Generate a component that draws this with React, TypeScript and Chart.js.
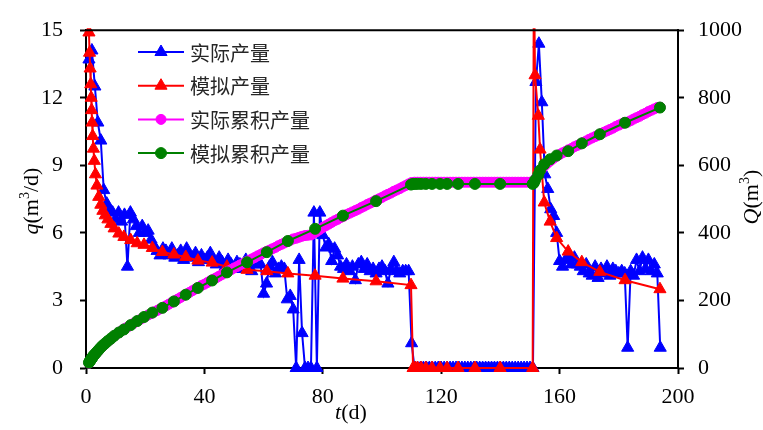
import React, { useEffect, useRef } from "react";
import { Chart, registerables } from "chart.js";

Chart.register(...registerables);

// ---------------- data ----------------
const legendLabels = ["实际产量", "模拟产量", "实际累积产量", "模拟累积产量"];

const xTickValues = [0, 40, 80, 120, 160, 200];
const qTickValues = [0, 3, 6, 9, 12, 15];
const QTickValues = [0, 200, 400, 600, 800, 1000];

// measured (daily) – t in days
const actualDays = [
  1, 2, 3, 4, 5, 6, 7, 8, 9, 10, 11, 12, 13, 14, 15, 16, 17, 18, 19, 20,
  21, 22, 23, 24, 25, 26, 27, 28, 29, 30, 31, 32, 33, 34, 35, 36, 37, 38, 39, 40,
  41, 42, 43, 44, 45, 46, 47, 48, 49, 50, 51, 52, 53, 54, 55, 56, 57, 58, 59, 60,
  61, 62, 63, 64, 65, 66, 67, 68, 69, 70, 71, 72, 73, 74, 75, 76, 77, 78, 79, 80,
  81, 82, 83, 84, 85, 86, 87, 88, 89, 90, 91, 92, 93, 94, 95, 96, 97, 98, 99, 100,
  101, 102, 103, 104, 105, 106, 107, 108, 109, 110, 111, 112, 113, 114, 115, 116, 117, 118, 119, 120,
  121, 122, 123, 124, 125, 126, 127, 128, 129, 130, 131, 132, 133, 134, 135, 136, 137, 138, 139, 140,
  141, 142, 143, 144, 145, 146, 147, 148, 149, 150, 151, 152, 153, 154, 155, 156, 157, 158, 159, 160,
  161, 162, 163, 164, 165, 166, 167, 168, 169, 170, 171, 172, 173, 174, 175, 176, 177, 178, 179, 180,
  181, 182, 183, 184, 185, 186, 187, 188, 189, 190, 191, 192, 193, 194,
];

// 实际产量 q (m3/d)
const actualRate = [
  13.7, 14.1, 12.5, 10.9, 10.1, 7.9, 7.3, 7.0, 6.9, 6.6,
  6.9, 6.5, 6.8, 4.5, 6.9, 6.6, 6.3, 6.0, 6.3, 6.0,
  6.1, 5.7, 5.4, 5.2, 5.0, 5.3, 5.2, 5.0, 5.3, 4.9,
  5.0, 5.2, 4.8, 5.3, 5.0, 4.9, 5.1, 4.7, 5.0, 4.8,
  4.9, 5.1, 4.8, 4.6, 4.9, 4.7, 4.5, 4.8, 4.6, 4.4,
  4.7, 4.6, 4.4, 4.8, 4.5, 4.3, 4.6, 4.7, 4.6, 3.3,
  3.75, 4.5, 4.7, 4.2, 4.4, 4.5, 4.4, 3.05, 3.2, 2.6,
  0, 4.8, 1.55, 0, 0, 0, 6.9, 0, 6.9, 5.9,
  5.35, 5.5, 4.75, 5.3, 5.0, 4.5, 4.4, 4.6, 4.3, 4.5,
  3.9, 4.6, 4.7, 4.4, 4.6, 4.3, 4.4, 4.2, 4.4, 4.5,
  4.3, 3.75, 4.4, 4.7, 4.3, 4.2, 4.3, 4.3, 4.3, 1.1,
  0, 0, 0, 0, 0, 0, 0, 0, 0, 0,
  0, 0, 0, 0, 0, 0, 0, 0, 0, 0,
  0, 0, 0, 0, 0, 0, 0, 0, 0, 0,
  0, 0, 0, 0, 0, 0, 0, 0, 0, 0,
  0,
  12.7, 14.4, 11.8, 8.6, 7.95, 7.05, 6.75, 6.0, 4.75,
  4.5, 4.8, 4.9, 4.6, 4.9, 4.6, 4.5, 4.3, 4.6, 4.2,
  4.1, 4.5, 4.0, 4.4, 4.2, 4.5, 4.1, 4.4, 4.3, 4.2,
  4.3, 4.2, 0.9, 4.3, 4.1, 4.8, 4.3, 4.9, 4.4, 4.8,
  4.3, 4.6, 4.2, 0.9,
];

// 实际累积产量 Q (m3)
const actualCum = [
  14, 27, 39, 49, 59, 68, 76, 83, 91, 98,
  104, 110, 116, 121, 127, 132, 137, 142, 147, 152,
  157, 161, 166, 170, 175, 179, 184, 189, 194, 199,
  204, 209, 214, 219, 224, 229, 234, 239, 244, 248,
  253, 258, 263, 267, 272, 277, 282, 287, 291, 296,
  300, 305, 309, 314, 318, 323, 327, 332, 336, 341,
  345, 349, 353, 357, 362, 366, 370, 374, 378, 382,
  384, 387, 390, 392, 393, 394, 399, 404, 410, 416,
  421, 426, 431, 436, 440, 445, 449, 454, 458, 462,
  466, 470, 475, 479, 484, 488, 492, 497, 501, 505,
  510, 514, 518, 523, 527, 531, 536, 540, 545, 549,
  550, 550, 550, 550, 550, 550, 550, 550, 550, 550,
  550, 550, 550, 550, 550, 550, 550, 550, 550, 550,
  550, 550, 550, 550, 550, 550, 550, 550, 550, 550,
  550, 550, 550, 550, 550, 550, 550, 550, 550, 550,
  550,
  562, 577, 590, 599, 607, 614, 621, 627, 632,
  637, 641, 646, 650, 655, 659, 663, 668, 672, 677,
  681, 685, 689, 694, 698, 702, 706, 710, 715, 719,
  723, 727, 728, 732, 737, 741, 745, 750, 754, 759,
  763, 767, 771, 772,
];

// simulation time steps
const simDays = [
  1.0, 1.2, 1.4, 1.6, 1.75, 1.9, 2.05, 2.25, 2.5, 2.8,
  3.2, 3.7, 4.3, 5.0, 5.7, 6.5, 7.4, 8.4, 9.5, 11.1,
  12.8, 15.1, 17.3, 19.6, 22.4, 25.8, 29.7, 33.7, 37.8, 42.6,
  47.6, 54.4, 61.1, 68.2, 77.4, 86.8, 98.0, 109.8,
  110.5, 111.2, 112.0, 113.2, 114.8, 116.9, 119.6, 122.0, 125.7, 131.4, 139.9, 150.9,
  151.3, 151.7, 152.8, 153.4, 154.8, 156.8, 159.0, 162.9, 167.5, 173.6, 182.1, 193.9,
];

// 模拟产量 q (m3/d)
const simRate = [
  14.9, 14.0, 13.3, 12.6, 12.0, 11.45, 10.9, 10.3, 9.74, 9.2,
  8.6, 8.1, 7.6, 7.25, 6.98, 6.78, 6.6, 6.4, 6.2, 5.97,
  5.82, 5.68, 5.54, 5.47, 5.33, 5.15, 5.04, 4.93, 4.77, 4.68,
  4.5, 4.36, 4.3, 4.2, 4.1, 3.97, 3.85, 3.68,
  0, 0, 0, 0, 0, 0, 0, 0, 0, 0, 0, 0,
  18, 13.0, 11.2, 9.7, 7.35, 6.5, 5.77, 5.17, 4.7, 4.27, 3.9, 3.5,
];

// 模拟累积产量 Q (m3)
const simCum = [
  16, 19, 22, 24, 26, 28, 30, 33, 36, 39,
  43, 48, 54, 61, 67, 73, 80, 87, 95, 105,
  114, 127, 139, 151, 164, 178, 197, 217, 237, 259,
  283, 313, 343, 376, 412, 451, 494, 543,
  545, 545, 545, 545, 545, 545, 545, 545, 545, 545, 545, 545,
  548, 556, 572, 585, 603, 618, 629, 642, 665, 692, 726, 771,
];

// ---------------- styles ----------------
const BLUE = "#0000FF";
const RED = "#FF0000";
const MAGENTA = "#FF00FF";
const GREEN = "#008000";
const SERIF = '"Liberation Serif", "Times New Roman", serif';
const CJK = '"Noto Sans CJK SC", "Noto Sans CJK JP", sans-serif';
const FONT_SIZE = 22;
const LEGEND_SIZE = 20;
const TRI_R = 7;

type Seg = { t: string; italic?: boolean; sup?: boolean };

function drawSegs(ctx: CanvasRenderingContext2D, segs: Seg[], cx: number, cy: number, size: number, rotate: boolean) {
  ctx.save();
  ctx.translate(cx, cy);
  if (rotate) ctx.rotate(-Math.PI / 2);
  const fontFor = (s: Seg) => `${s.italic ? "italic " : ""}${s.sup ? Math.round(size * 0.62) : size}px ${SERIF}`;
  let total = 0;
  for (const s of segs) {
    ctx.font = fontFor(s);
    total += ctx.measureText(s.t).width;
  }
  let x = -total / 2;
  ctx.textAlign = "left";
  ctx.textBaseline = "alphabetic";
  ctx.fillStyle = "#000";
  const base = size * 0.33;
  for (const s of segs) {
    ctx.font = fontFor(s);
    ctx.fillText(s.t, x, base + (s.sup ? -size * 0.4 : 0));
    x += ctx.measureText(s.t).width;
  }
  ctx.restore();
}

function drawMarker(ctx: CanvasRenderingContext2D, style: string, x: number, y: number, r: number, color: string) {
  ctx.save();
  ctx.fillStyle = color;
  ctx.strokeStyle = color;
  ctx.lineWidth = 1;
  ctx.beginPath();
  if (style === "triangle") {
    let rad = 0;
    ctx.moveTo(x + Math.sin(rad) * r, y - Math.cos(rad) * r);
    rad += (2 * Math.PI) / 3;
    ctx.lineTo(x + Math.sin(rad) * r, y - Math.cos(rad) * r);
    rad += (2 * Math.PI) / 3;
    ctx.lineTo(x + Math.sin(rad) * r, y - Math.cos(rad) * r);
    ctx.closePath();
  } else {
    ctx.arc(x, y, r, 0, Math.PI * 2);
  }
  ctx.fill();
  ctx.stroke();
  ctx.restore();
}

const framePlugin = {
  id: "frameAndTitles",
  afterDraw(chart: any) {
    const { ctx, chartArea } = chart;
    // top frame line
    ctx.save();
    ctx.strokeStyle = "#000";
    ctx.lineWidth = 2;
    ctx.beginPath();
    ctx.moveTo(chartArea.left - 1, chartArea.top);
    ctx.lineTo(chartArea.right + 1, chartArea.top);
    ctx.stroke();
    ctx.restore();

    const midY = (chartArea.top + chartArea.bottom) / 2;
    const midX = (chartArea.left + chartArea.right) / 2;
    drawSegs(ctx, [{ t: "q", italic: true }, { t: "(m" }, { t: "3", sup: true }, { t: "/d)" }], 31, midY + 2, FONT_SIZE, true);
    drawSegs(ctx, [{ t: "Q", italic: true }, { t: "(m" }, { t: "3", sup: true }, { t: ")" }], 751, midY - 2, FONT_SIZE, true);
    drawSegs(ctx, [{ t: "t", italic: true }, { t: "(d)" }], midX - 31, 412, FONT_SIZE, false);

    // legend
    const items = [
      { label: legendLabels[0], color: BLUE, style: "triangle", r: TRI_R },
      { label: legendLabels[1], color: RED, style: "triangle", r: TRI_R },
      { label: legendLabels[2], color: MAGENTA, style: "circle", r: 5 },
      { label: legendLabels[3], color: GREEN, style: "circle", r: 5.5 },
    ];
    items.forEach((it, i) => {
      const y = 52 + i * 33.7;
      ctx.save();
      ctx.strokeStyle = it.color;
      ctx.lineWidth = 2;
      ctx.beginPath();
      ctx.moveTo(138, y);
      ctx.lineTo(184, y);
      ctx.stroke();
      ctx.restore();
      drawMarker(ctx, it.style, 161, y, it.r, it.color);
      ctx.save();
      ctx.font = `${LEGEND_SIZE}px ${CJK}`;
      ctx.fillStyle = "#262626";
      ctx.textAlign = "left";
      ctx.textBaseline = "middle";
      ctx.fillText(it.label, 190, y + 1);
      ctx.restore();
    });
  },
};

const tickFont = { family: SERIF, size: FONT_SIZE };
const gridOpts = { drawOnChartArea: false, drawTicks: true, tickLength: 6, tickWidth: 2, tickColor: "#000" };
const borderOpts = { display: true, color: "#000", width: 2 };

export default function App() {
  const ref = useRef<HTMLCanvasElement | null>(null);
  useEffect(() => {
    if (!ref.current) return;
    const toPts = (xs: number[], ys: number[]) => xs.map((x, i) => ({ x, y: ys[i] }));
    const clipBox = { left: 10, right: 10, top: 2, bottom: 10 };
    const chart = new Chart(ref.current, {
      type: "line",
      data: {
        datasets: [
          {
            label: legendLabels[3],
            data: toPts(simDays, simCum),
            yAxisID: "yR",
            borderColor: GREEN,
            backgroundColor: GREEN,
            borderWidth: 2,
            pointStyle: "circle",
            pointRadius: 5.5,
            pointBorderWidth: 1,
            pointBorderColor: GREEN,
            pointBackgroundColor: GREEN,
            order: 0,
            clip: clipBox,
          },
          {
            label: legendLabels[2],
            data: toPts(actualDays, actualCum),
            yAxisID: "yR",
            borderColor: MAGENTA,
            backgroundColor: MAGENTA,
            borderWidth: 2,
            pointStyle: "circle",
            pointRadius: 5,
            pointBorderWidth: 1,
            pointBorderColor: MAGENTA,
            pointBackgroundColor: MAGENTA,
            order: 1,
            clip: clipBox,
          },
          {
            label: legendLabels[1],
            data: toPts(simDays, simRate),
            yAxisID: "yL",
            borderColor: RED,
            backgroundColor: RED,
            borderWidth: 2,
            pointStyle: "triangle",
            pointRadius: TRI_R,
            pointBorderWidth: 1,
            pointBorderColor: RED,
            pointBackgroundColor: RED,
            order: 2,
            clip: clipBox,
          },
          {
            label: legendLabels[0],
            data: toPts(actualDays, actualRate),
            yAxisID: "yL",
            borderColor: BLUE,
            backgroundColor: BLUE,
            borderWidth: 2,
            pointStyle: "triangle",
            pointRadius: TRI_R,
            pointBorderWidth: 1,
            pointBorderColor: BLUE,
            pointBackgroundColor: BLUE,
            order: 3,
            clip: clipBox,
          },
        ],
      },
      options: {
        animation: false,
        responsive: false,
        events: [],
        layout: { padding: { top: 17, left: 0, right: 0, bottom: 0 } },
        plugins: { legend: { display: false }, tooltip: { enabled: false } },
        scales: {
          x: {
            type: "linear",
            position: "bottom",
            min: 0,
            max: 200,
            afterFit: (s: any) => { s.height = 62; },
            afterBuildTicks: (s: any) => { s.ticks = xTickValues.map((v) => ({ value: v })); },
            ticks: { font: tickFont, color: "#000", padding: 10, maxRotation: 0, autoSkip: false, callback: (v: any) => String(v) },
            grid: gridOpts,
            border: borderOpts,
          },
          yL: {
            type: "linear",
            position: "left",
            min: 0,
            max: 15,
            afterFit: (s: any) => { s.width = 86; },
            afterBuildTicks: (s: any) => { s.ticks = qTickValues.map((v) => ({ value: v })); },
            ticks: { font: tickFont, color: "#000", padding: 17, autoSkip: false, callback: (v: any) => String(v) },
            grid: gridOpts,
            border: borderOpts,
          },
          yR: {
            type: "linear",
            position: "right",
            min: 0,
            max: 1000,
            afterFit: (s: any) => { s.width = 85; },
            afterBuildTicks: (s: any) => { s.ticks = QTickValues.map((v) => ({ value: v })); },
            ticks: { font: tickFont, color: "#000", padding: 14, autoSkip: false, callback: (v: any) => String(v) },
            grid: gridOpts,
            border: borderOpts,
          },
        },
      } as any,
      plugins: [framePlugin as any],
    });
    return () => chart.destroy();
  }, []);

  return (
    <div style={{ position: "absolute", left: 0, top: 0, width: 763, height: 430, background: "#fff" }}>
      <canvas ref={ref} width={763} height={430} style={{ width: 763, height: 430, display: "block" }} />
    </div>
  );
}
